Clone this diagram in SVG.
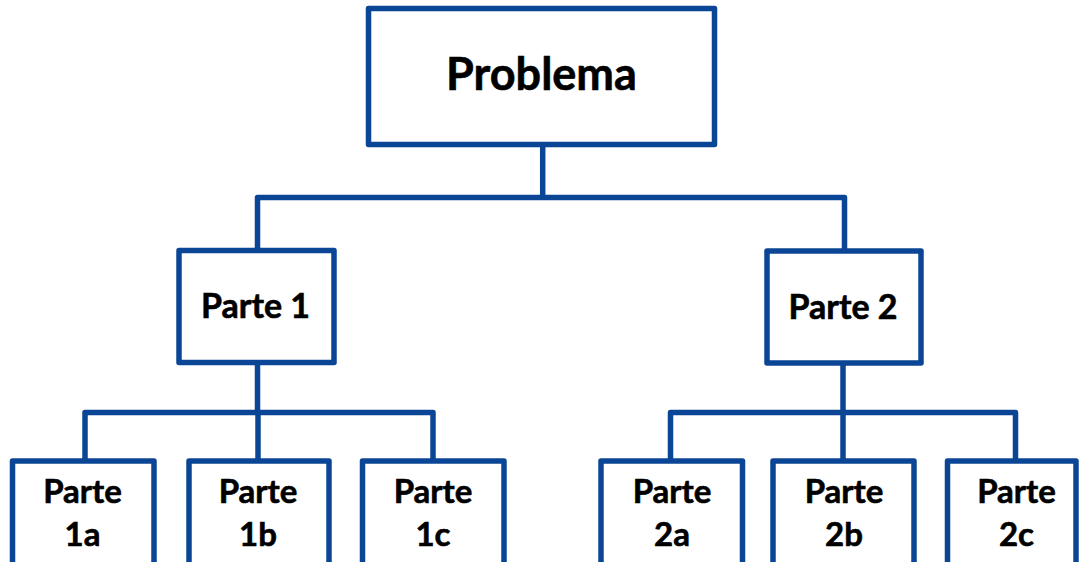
<svg xmlns="http://www.w3.org/2000/svg" width="1079" height="562" viewBox="0 0 1079 562">
<style>
.box{fill:#ffffff;stroke:#0B4595;stroke-width:5.5;stroke-linejoin:round}
.con{fill:none;stroke:#0B4595;stroke-width:5.5;stroke-linejoin:round}
.t{font-family:Lato,"Liberation Sans",sans-serif;font-weight:700;fill:#000000;text-anchor:middle;stroke:#000000;stroke-width:0.6}
.t1{font-size:45px}
.t2{font-size:34px}
.t3{font-size:33px}
</style>
<rect width="1079" height="562" fill="#ffffff"/>
<g id="connectors">
<path class="con" d="M542.7,147 V197.5"/>
<path class="con" d="M257.5,250.5 V197.5 H844.5 V251"/>
<path class="con" d="M257.5,362.5 V412.5"/>
<path class="con" d="M85,461 V412.5 H433 V461"/>
<path class="con" d="M258,412.5 V461"/>
<path class="con" d="M843,363 V412.5"/>
<path class="con" d="M670.5,461 V412.5 H1015.5 V461"/>
<path class="con" d="M843,412.5 V461"/>
</g>
<g id="problema">
<rect class="box" x="368.5" y="8.5" width="346" height="136"/>
<text class="t t1" x="541.5" y="90">Problema</text>
</g>
<g id="parte1">
<rect class="box" x="179" y="250.5" width="155" height="112"/>
<text class="t t2" x="255.5" y="318">Parte 1</text>
</g>
<g id="parte2">
<rect class="box" x="767" y="251" width="154" height="112"/>
<text class="t t2" x="843" y="319">Parte 2</text>
</g>
<g id="parte1a">
<rect class="box" x="12.5" y="461" width="141.5" height="120"/>
<text class="t t3" x="82.5" y="503">Parte</text>
<text class="t t3" x="82.5" y="545.5">1a</text>
</g>
<g id="parte1b">
<rect class="box" x="189" y="461" width="140" height="120"/>
<text class="t t3" x="258" y="503">Parte</text>
<text class="t t3" x="258" y="545.5">1b</text>
</g>
<g id="parte1c">
<rect class="box" x="362.5" y="461" width="141.5" height="120"/>
<text class="t t3" x="433" y="503">Parte</text>
<text class="t t3" x="433" y="545.5">1c</text>
</g>
<g id="parte2a">
<rect class="box" x="601" y="461" width="141.5" height="120"/>
<text class="t t3" x="672" y="503">Parte</text>
<text class="t t3" x="672" y="545.5">2a</text>
</g>
<g id="parte2b">
<rect class="box" x="773" y="461" width="141" height="120"/>
<text class="t t3" x="844" y="503">Parte</text>
<text class="t t3" x="844" y="545.5">2b</text>
</g>
<g id="parte2c">
<rect class="box" x="947.5" y="461" width="128.5" height="120"/>
<text class="t t3" x="1016.5" y="503">Parte</text>
<text class="t t3" x="1016.5" y="545.5">2c</text>
</g>
</svg>
